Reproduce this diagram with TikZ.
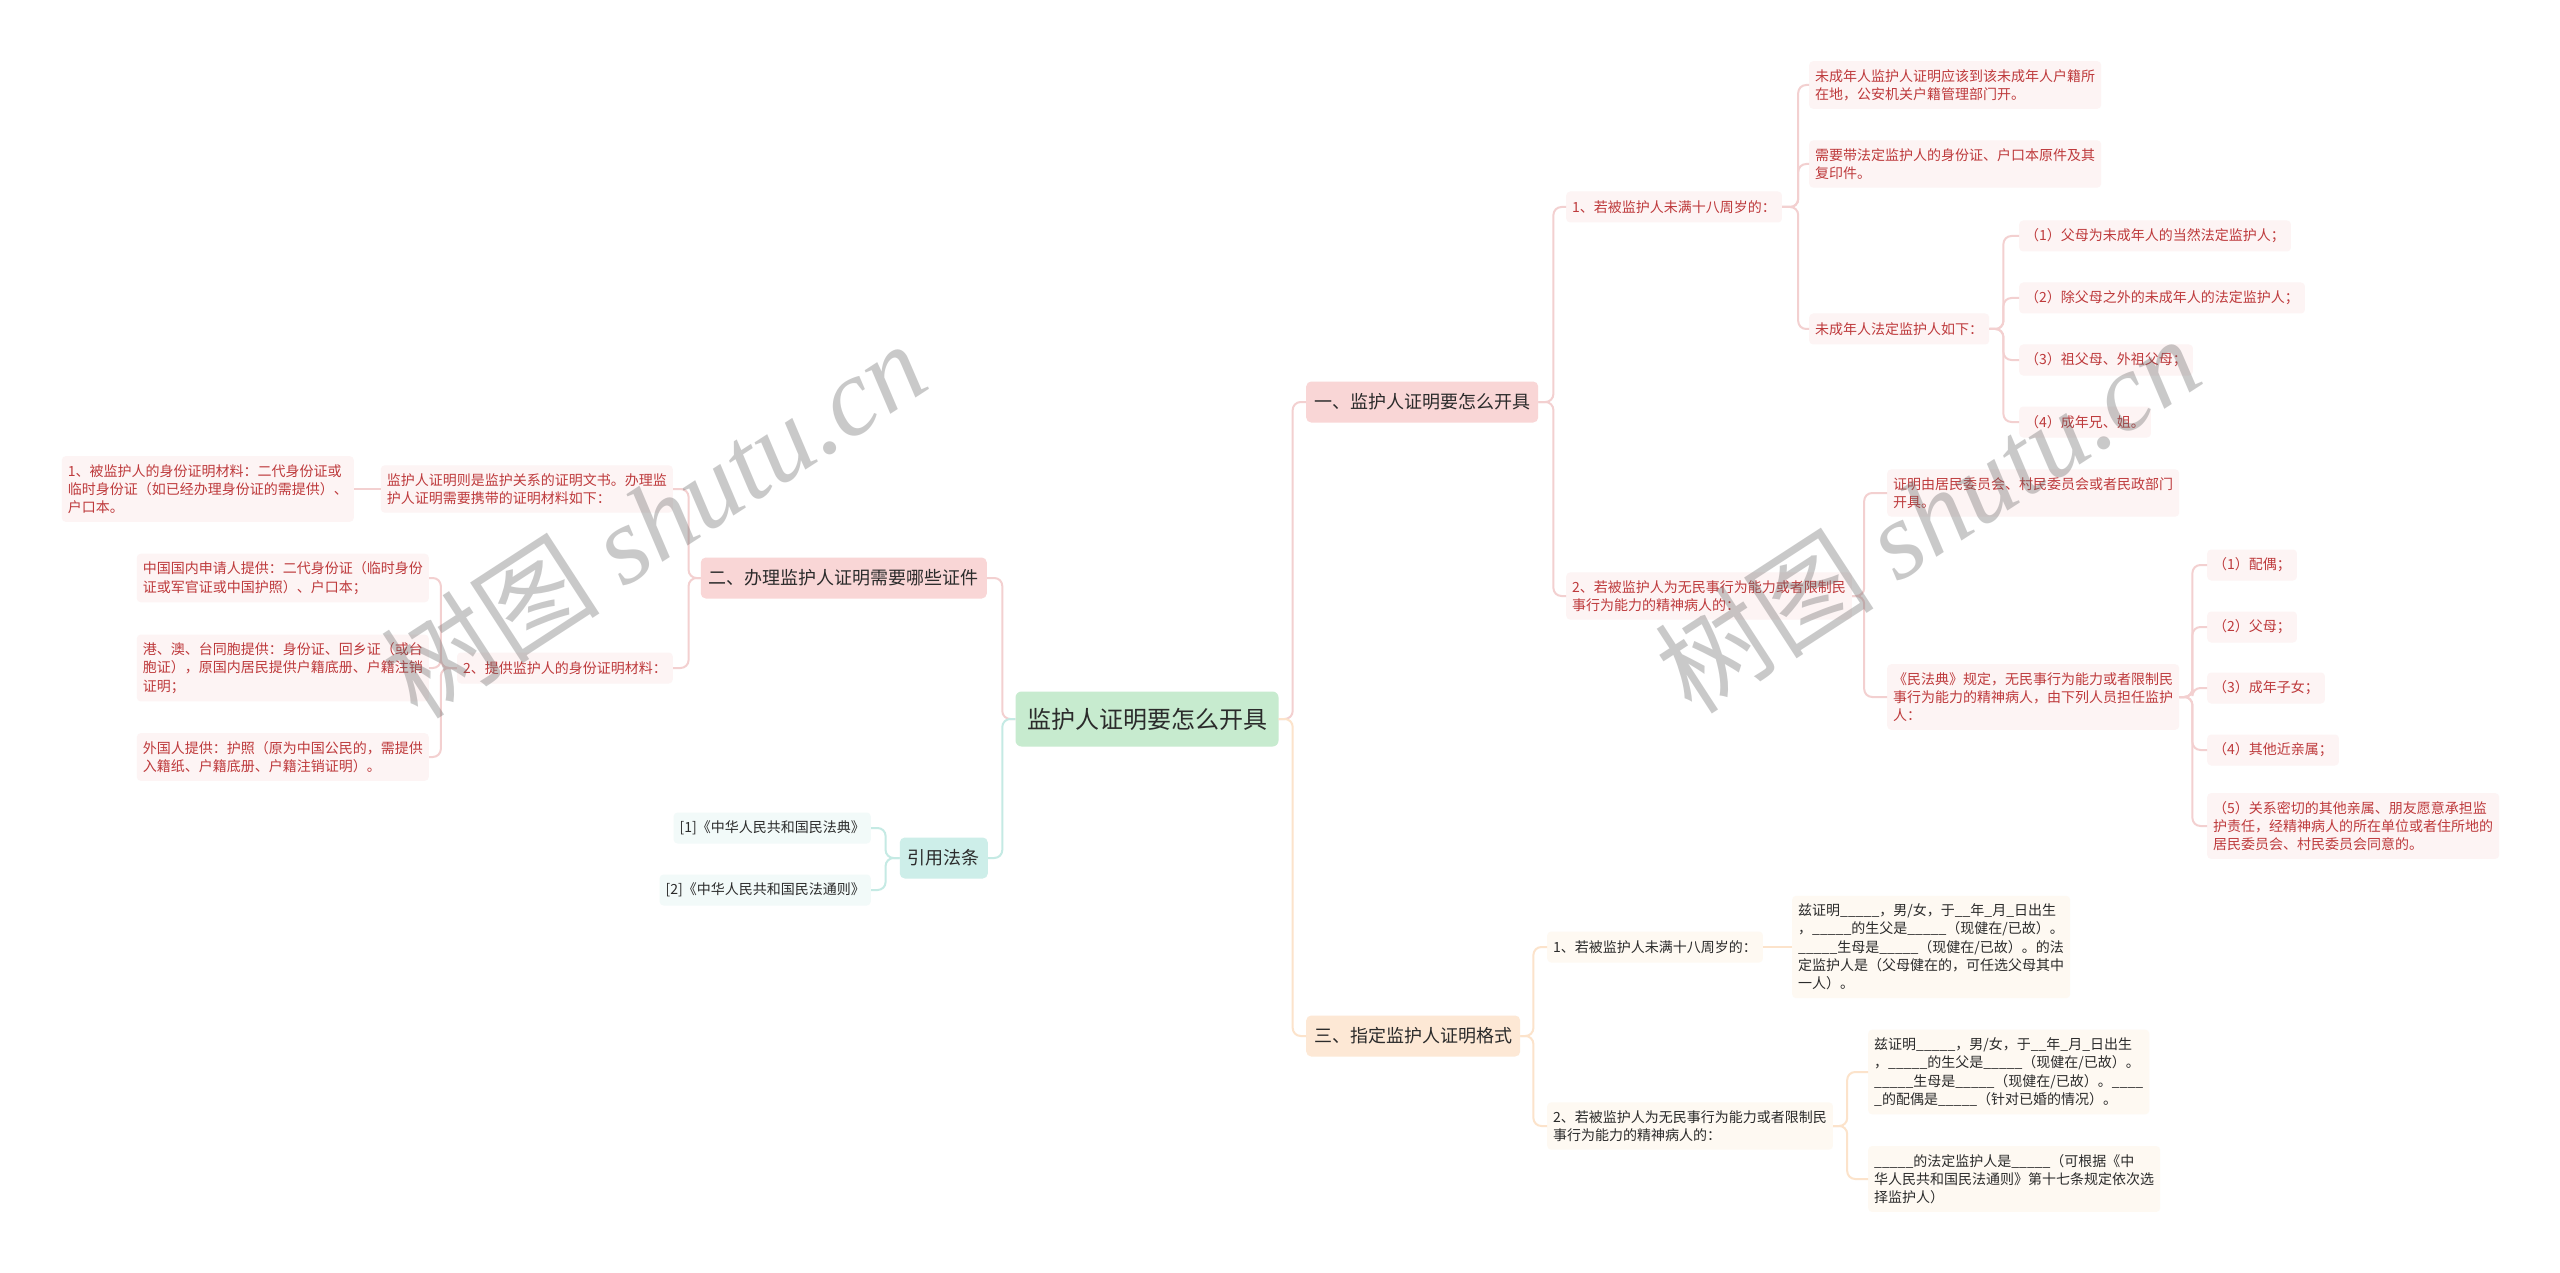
\documentclass[tikz,border=0pt]{standalone}
\usepackage{fontspec}
\setmainfont{Noto Sans CJK SC}
\newfontfamily\wmlat{Liberation Serif}
\newcommand\blk{\_\_\_\_\_}
\definecolor{txt}{HTML}{2B2B2B}
\definecolor{rootfill}{HTML}{C7EBCF}
\definecolor{pinkfill}{HTML}{F9D6D6}
\definecolor{peachfill}{HTML}{FDE8D5}
\definecolor{cyanfill}{HTML}{CDEEE9}
\definecolor{leafpink}{HTML}{FDF4F4}
\definecolor{leafpeach}{HTML}{FEF9F2}
\definecolor{leafcyan}{HTML}{F2FAF9}
\definecolor{leafred}{HTML}{BE3A3C}
\definecolor{linepink}{HTML}{F3D0D0}
\definecolor{lineorange}{HTML}{FCE3CB}
\definecolor{linecyan}{HTML}{C5EAE4}
\begin{document}
\begin{tikzpicture}[x=1pt,y=-1pt,
  rootbox/.style={fill=rootfill, rounded corners=6, text=txt, font=\fontsize{24}{28}\selectfont, minimum width=263, minimum height=55, inner sep=0},
  mainbox/.style={rounded corners=5, font=\fontsize{18}{22}\selectfont, inner xsep=8, inner ysep=4, minimum height=41, text=txt},
  bpink/.style={mainbox, fill=pinkfill},
  bpeach/.style={mainbox, fill=peachfill},
  bcyan/.style={mainbox, fill=cyanfill},
  leaf/.style={rounded corners=4, font=\fontsize{14}{18.3}\selectfont, inner xsep=6, inner ysep=8, align=left, minimum height=31},
  lr/.style={leaf, fill=leafpink, text=leafred},
  lo/.style={leaf, fill=leafpeach, text=txt},
  lc/.style={leaf, fill=leafcyan, text=txt},
  ep/.style={draw=linepink, line width=2, rounded corners=8},
  eo/.style={draw=lineorange, line width=2, rounded corners=8},
  ec/.style={draw=linecyan, line width=2, rounded corners=8},
  wm/.style={text=black!60, text opacity=0.35, font=\fontsize{110}{120}\selectfont, inner sep=0}
]
\fill[white] (0,0) rectangle (2560,1273);
\useasboundingbox (0,0) rectangle (2560,1273);

% root
\node[rootbox] (root) at (1147,719) {监护人证明要怎么开具};

% main branches
\node[bpink, anchor=west] (b1) at (1306,402) {一、监护人证明要怎么开具};
\node[bpink, anchor=east] (b2) at (987,578) {二、办理监护人证明需要哪些证件};
\node[bpeach, anchor=west] (b3) at (1306,1036) {三、指定监护人证明格式};
\node[bcyan, anchor=east] (b4) at (988,858) {引用法条};

% branch 1
\node[lr, anchor=west] (n11) at (1566,207) {1、若被监护人未满十八周岁的：};
\node[lr, anchor=west] (n111) at (1809,85) {未成年人监护人证明应该到该未成年人户籍所\\在地，公安机关户籍管理部门开。};
\node[lr, anchor=west] (n112) at (1809,164) {需要带法定监护人的身份证、户口本原件及其\\复印件。};
\node[lr, anchor=west] (n113) at (1809,329) {未成年人法定监护人如下：};
\node[lr, anchor=west] (n1131) at (2019,236) {（1）父母为未成年人的当然法定监护人；};
\node[lr, anchor=west] (n1132) at (2019,298) {（2）除父母之外的未成年人的法定监护人；};
\node[lr, anchor=west] (n1133) at (2019,360) {（3）祖父母、外祖父母；};
\node[lr, anchor=west] (n1134) at (2019,422) {（4）成年兄、姐。};
\node[lr, anchor=west] (n12) at (1566,596) {2、若被监护人为无民事行为能力或者限制民\\事行为能力的精神病人的：};
\node[lr, anchor=west] (n121) at (1887,493) {证明由居民委员会、村民委员会或者民政部门\\开具。};
\node[lr, anchor=west] (n122) at (1887,697) {《民法典》规定，无民事行为能力或者限制民\\事行为能力的精神病人，由下列人员担任监护\\人：};
\node[lr, anchor=west] (n1221) at (2207,565) {（1）配偶；};
\node[lr, anchor=west] (n1222) at (2207,627) {（2）父母；};
\node[lr, anchor=west] (n1223) at (2207,688) {（3）成年子女；};
\node[lr, anchor=west] (n1224) at (2207,750) {（4）其他近亲属；};
\node[lr, anchor=west] (n1225) at (2207,826) {（5）关系密切的其他亲属、朋友愿意承担监\\护责任，经精神病人的所在单位或者住所地的\\居民委员会、村民委员会同意的。};

% branch 2
\node[lr, anchor=east] (n21) at (673,489) {监护人证明则是监护关系的证明文书。办理监\\护人证明需要携带的证明材料如下：};
\node[lr, anchor=east] (n211) at (354,489) {1、被监护人的身份证明材料：二代身份证或\\临时身份证（如已经办理身份证的需提供）、\\户口本。};
\node[lr, anchor=east] (n22) at (673,668) {2、提供监护人的身份证明材料：};
\node[lr, anchor=east] (n221) at (429,578) {中国国内申请人提供：二代身份证（临时身份\\证或军官证或中国护照）、户口本；};
\node[lr, anchor=east] (n222) at (429,668) {港、澳、台同胞提供：身份证、回乡证（或台\\胞证），原国内居民提供户籍底册、户籍注销\\证明；};
\node[lr, anchor=east] (n223) at (429,757) {外国人提供：护照（原为中国公民的，需提供\\入籍纸、户籍底册、户籍注销证明）。};

% branch 3
\node[lo, anchor=west] (n31) at (1547,947) {1、若被监护人未满十八周岁的：};
\node[lo, anchor=west] (n311) at (1792,947) {兹证明\blk，男/女，于\_\_年\_月\_日出生\\，\blk 的生父是\blk（现健在/已故）。\\\blk 生母是\blk（现健在/已故）。的法\\定监护人是（父母健在的，可任选父母其中\\一人）。};
\node[lo, anchor=west] (n32) at (1547,1126) {2、若被监护人为无民事行为能力或者限制民\\事行为能力的精神病人的：};
\node[lo, anchor=west] (n321) at (1868,1072) {兹证明\blk，男/女，于\_\_年\_月\_日出生\\，\blk 的生父是\blk（现健在/已故）。\\\blk 生母是\blk（现健在/已故）。\_\_\_\_\\\_的配偶是\blk（针对已婚的情况）。};
\node[lo, anchor=west] (n322) at (1868,1179) {\blk 的法定监护人是\blk（可根据《中\\华人民共和国民法通则》第十七条规定依次选\\择监护人）};

% branch 4
\node[lc, anchor=east] (n41) at (871,828) {[1]《中华人民共和国民法典》};
\node[lc, anchor=east] (n42) at (871,890) {[2]《中华人民共和国民法通则》};

% connectors: root
\draw[ep] (root.west) -- ([xshift=-13]root.west) |- (b2.east);
\draw[ec] (root.west) -- ([xshift=-13]root.west) |- (b4.east);
\draw[ep] (root.east) -- ([xshift=14]root.east) |- (b1.west);
\draw[eo] (root.east) -- ([xshift=14]root.east) |- (b3.west);

% branch 1 connectors
\foreach \c in {n11,n12} \draw[ep] (b1.east) -- ([xshift=15]b1.east) |- (\c.west);
\foreach \c in {n111,n112,n113} \draw[ep] (n11.east) -- ([xshift=16]n11.east) |- (\c.west);
\foreach \c in {n1131,n1132,n1133,n1134} \draw[ep] (n113.east) -- ([xshift=14]n113.east) |- (\c.west);
\foreach \c in {n121,n122} \draw[ep] (n12.east) -- ([xshift=12]n12.east) |- (\c.west);
\foreach \c in {n1221,n1222,n1223,n1224,n1225} \draw[ep] (n122.east) -- ([xshift=13]n122.east) |- (\c.west);

% branch 2 connectors
\foreach \c in {n21,n22} \draw[ep] (b2.west) -- ([xshift=-12]b2.west) |- (\c.east);
\draw[ep] (n21.west) -- (n211.east);
\foreach \c in {n221,n222,n223} \draw[ep] (n22.west) -- ([xshift=-16]n22.west) |- (\c.east);

% branch 3 connectors
\foreach \c in {n31,n32} \draw[eo] (b3.east) -- ([xshift=13]b3.east) |- (\c.west);
\draw[eo] (n31.east) -- (n311.west);
\foreach \c in {n321,n322} \draw[eo] (n32.east) -- ([xshift=14]n32.east) |- (\c.west);

% branch 4 connectors
\foreach \c in {n41,n42} \draw[ec] (b4.west) -- ([xshift=-14]b4.west) |- (\c.east);

% watermarks
\node[wm, rotate=33] (wm1) at (653,519) {树图 {\wmlat\itshape shutu.cn}};
\node[wm, rotate=33] (wm2) at (1927,514) {树图 {\wmlat\itshape shutu.cn}};
\end{tikzpicture}
\end{document}
